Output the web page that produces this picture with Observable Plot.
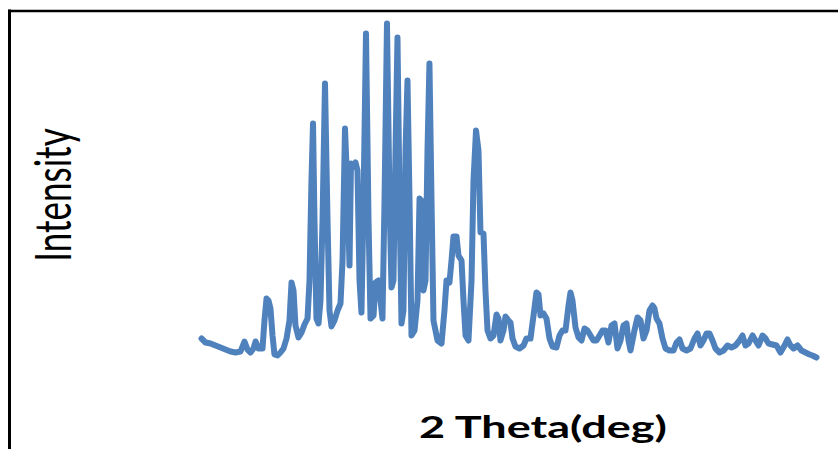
<!DOCTYPE html>
<html>
<head>
<meta charset="utf-8">
<script src="https://cdn.jsdelivr.net/npm/d3@7"></script>
<script src="https://cdn.jsdelivr.net/npm/@observablehq/plot@0.6"></script>
<style>
  html, body { margin: 0; padding: 0; background: #fff; overflow: hidden; }
  #chart { width: 838px; height: 449px; }
</style>
</head>
<body>
<div id="chart"></div>
<script>
// 2θ (degrees)
const twoTheta = [
  5.00, 5.49, 6.10, 6.71, 7.32, 7.93, 8.54, 9.15, 9.76, 10.24,
  10.61, 10.98, 11.34, 11.59, 11.95, 12.44, 12.68, 12.93, 13.17, 13.41,
  13.66, 13.90, 14.27, 14.63, 15.00, 15.37, 15.73, 15.98, 16.22, 16.46,
  16.83, 17.20, 17.56, 17.93, 18.17, 18.41, 18.60, 18.78, 19.02, 19.27,
  19.51, 19.76, 20.06, 20.37, 20.61, 20.85, 21.22, 21.59, 21.95, 22.20,
  22.50, 22.80, 23.05, 23.23, 23.54, 23.78, 24.02, 24.27, 24.51, 24.76,
  25.06, 25.37, 25.61, 25.98, 26.22, 26.59, 26.83, 27.07, 27.32, 27.62,
  27.93, 28.17, 28.41, 28.66, 28.90, 29.15, 29.39, 29.63, 29.88, 30.12,
  30.37, 30.61, 30.98, 31.34, 31.59, 31.83, 32.07, 32.32, 32.56, 32.80,
  33.05, 33.29, 33.78, 34.27, 34.63, 34.88, 35.24, 35.49, 35.73, 36.10,
  36.34, 36.71, 36.95, 37.20, 37.56, 37.93, 38.17, 38.48, 38.78, 39.02,
  39.39, 39.63, 39.88, 40.24, 40.61, 40.98, 41.22, 41.46, 41.83, 42.07,
  42.44, 42.68, 42.93, 43.29, 43.78, 44.27, 44.63, 45.12, 45.49, 45.85,
  46.10, 46.34, 46.71, 47.07, 47.44, 47.80, 48.29, 48.66, 49.02, 49.39,
  49.76, 50.00, 50.24, 50.61, 50.98, 51.34, 51.71, 52.07, 52.44, 52.80,
  53.17, 53.54, 53.90, 54.27, 54.63, 55.00, 55.37, 55.73, 56.10, 56.46,
  56.83, 57.07, 57.32, 57.80, 58.17, 58.54, 58.90, 59.27, 59.63, 60.00,
  60.24, 60.49, 60.85, 61.22, 61.59, 62.07, 62.56, 62.93, 63.29, 63.66,
  64.15, 64.63, 65.12, 65.49, 65.85, 66.22, 66.59, 66.95, 67.32, 67.68,
  68.17, 68.66, 69.15, 69.63, 70.12, 70.61, 70.98, 71.34, 71.71, 72.20,
  72.56, 72.93, 73.41, 73.78, 74.15, 74.63, 75.12, 75.61, 76.10, 76.46,
  76.83, 77.20, 77.68, 78.17, 78.66, 79.15, 79.51, 80.00
];
// Intensity (a.u.)
const intensity = [
  66, 54, 51, 45, 39, 33, 27, 24, 27, 57,
  33, 24, 36, 57, 36, 36, 120, 186, 180, 156,
  75, 18, 15, 24, 36, 66, 120, 234, 210, 105,
  69, 84, 108, 126, 240, 540, 711, 420, 126, 111,
  180, 420, 831, 420, 150, 102, 120, 150, 171, 300,
  696, 510, 285, 591, 582, 594, 570, 240, 144, 480,
  981, 420, 126, 135, 234, 240, 180, 126, 480, 1011,
  480, 219, 240, 630, 969, 480, 111, 150, 630, 840,
  480, 75, 90, 180, 486, 480, 210, 240, 630, 891,
  480, 120, 60, 51, 150, 240, 234, 300, 372, 372,
  315, 300, 180, 75, 60, 240, 540, 690, 630, 384,
  381, 210, 90, 66, 75, 138, 126, 60, 90, 132,
  120, 114, 66, 42, 36, 45, 66, 66, 135, 204,
  198, 135, 141, 126, 66, 42, 39, 75, 90, 90,
  165, 204, 180, 99, 69, 60, 96, 90, 75, 60,
  60, 75, 90, 90, 54, 105, 111, 36, 60, 105,
  111, 60, 30, 90, 129, 120, 66, 90, 150, 165,
  156, 126, 111, 66, 36, 30, 30, 54, 63, 36,
  30, 36, 66, 81, 45, 60, 81, 81, 60, 36,
  24, 30, 45, 39, 45, 60, 75, 45, 51, 75,
  60, 45, 75, 66, 51, 48, 45, 24, 45, 63,
  45, 36, 45, 30, 24, 18, 15, 9
];
const xLabel = "2 Theta(deg)";
const yLabel = "Intensity";

const data = twoTheta.map((t, i) => ({t, v: intensity[i]}));

const chart = Plot.plot({
  width: 838,
  height: 449,
  marginLeft: 201,
  marginRight: 22,
  marginTop: 22,
  marginBottom: 89,
  style: {background: "#fff", overflow: "visible"},
  x: {domain: [5, 80], axis: null},
  y: {domain: [0, 1014], axis: null},
  marks: [
    Plot.line(data, {
      x: "t", y: "v",
      stroke: "#4f81bd",
      strokeWidth: 6,
      strokeLinejoin: "round",
      strokeLinecap: "round"
    })
  ]
});

const svg = d3.select(chart);
// partial frame (left and top edges)
svg.append("line").attr("x1", 9.5).attr("x2", 9.5).attr("y1", 9.5).attr("y2", 449)
  .attr("stroke", "#000").attr("stroke-width", 3);
svg.append("line").attr("x1", 8).attr("x2", 838).attr("y1", 11).attr("y2", 11)
  .attr("stroke", "#000").attr("stroke-width", 2.5);
// axis titles (horizontally stretched, as in the reference)
svg.append("text")
  .attr("transform", "translate(543,438) scale(1.5,1)")
  .attr("text-anchor", "middle")
  .attr("font-family", "Lato, 'Open Sans', sans-serif")
  .attr("font-weight", "bold")
  .attr("font-size", 30)
  .attr("fill", "#000")
  .text(xLabel);
svg.append("text")
  .attr("transform", "translate(71,195) scale(1.45,1) rotate(-90)")
  .attr("text-anchor", "middle")
  .attr("font-family", "Lato, 'Open Sans', sans-serif")
  .attr("font-size", 35)
  .attr("fill", "#000")
  .text(yLabel);

document.getElementById("chart").appendChild(chart);
</script>
</body>
</html>
